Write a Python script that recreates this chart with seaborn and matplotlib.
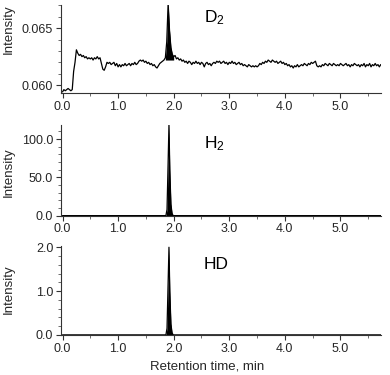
import numpy as np
import pandas as pd
import matplotlib
matplotlib.use("Agg")
import matplotlib.pyplot as plt
from matplotlib.ticker import MultipleLocator, FormatStrFormatter
import seaborn as sns

# ---------------- data ----------------
# D2 trace, sampled every 0.025 min from 0.0 to 5.75 min
d2_step = 0.025
d2_values = [
    0.0594, 0.0596, 0.0595, 0.0596, 0.0597, 0.0596, 0.0595, 0.0596, 0.0612, 0.0620,
    0.0631, 0.0628, 0.0626, 0.0627, 0.0625, 0.0626, 0.0624, 0.0625, 0.0623, 0.0624,
    0.0623, 0.0624, 0.0622, 0.0624, 0.0623, 0.0625, 0.0623, 0.0624, 0.0619, 0.0614,
    0.0613, 0.0616, 0.0620, 0.0619, 0.0620, 0.0618, 0.0619, 0.0620, 0.0617, 0.0619,
    0.0616, 0.0618, 0.0616, 0.0618, 0.0617, 0.0619, 0.0617, 0.0618, 0.0619, 0.0617,
    0.0619, 0.0618, 0.0620, 0.0618, 0.0619, 0.0621, 0.0622, 0.0621, 0.0622, 0.0620,
    0.0621, 0.0619, 0.0620, 0.0618, 0.0619, 0.0617, 0.0618, 0.0616, 0.0615, 0.0617,
    0.0619, 0.0620, 0.0621, 0.0622, 0.0624, 0.0638, 0.0672, 0.0648, 0.0633, 0.0627,
    0.0625, 0.0626, 0.0623, 0.0624, 0.0622, 0.0623, 0.0621, 0.0622, 0.0620, 0.0621,
    0.0619, 0.0621, 0.0620, 0.0618, 0.0620, 0.0619, 0.0621, 0.0619, 0.0620, 0.0618,
    0.0620, 0.0619, 0.0616, 0.0619, 0.0620, 0.0618, 0.0619, 0.0617, 0.0619, 0.0620,
    0.0619, 0.0621, 0.0620, 0.0621, 0.0619, 0.0620, 0.0621, 0.0619, 0.0620, 0.0618,
    0.0620, 0.0619, 0.0621, 0.0619, 0.0620, 0.0618, 0.0619, 0.0620, 0.0618, 0.0619,
    0.0617, 0.0618, 0.0617, 0.0616, 0.0618, 0.0617, 0.0616, 0.0617, 0.0616, 0.0617,
    0.0616, 0.0617, 0.0619, 0.0618, 0.0620, 0.0619, 0.0621, 0.0620, 0.0622, 0.0621,
    0.0620, 0.0622, 0.0621, 0.0620, 0.0621, 0.0619, 0.0620, 0.0621, 0.0619, 0.0620,
    0.0618, 0.0619, 0.0617, 0.0618, 0.0616, 0.0617, 0.0615, 0.0617, 0.0616, 0.0618,
    0.0616, 0.0617, 0.0618, 0.0617, 0.0619, 0.0618, 0.0617, 0.0619, 0.0618, 0.0620,
    0.0619, 0.0620, 0.0621, 0.0617, 0.0616, 0.0617, 0.0616, 0.0618, 0.0617, 0.0619,
    0.0618, 0.0617, 0.0619, 0.0618, 0.0617, 0.0619, 0.0618, 0.0617, 0.0618, 0.0617,
    0.0619, 0.0618, 0.0617, 0.0618, 0.0619, 0.0617, 0.0618, 0.0616, 0.0618, 0.0617,
    0.0619, 0.0618, 0.0617, 0.0618, 0.0616, 0.0618, 0.0617, 0.0619, 0.0616, 0.0618,
    0.0617, 0.0619, 0.0616, 0.0618, 0.0617, 0.0619, 0.0617, 0.0618, 0.0616, 0.0618,
    0.0617,
]
d2_time = np.round(np.arange(len(d2_values)) * d2_step, 3)

# H2 trace (baseline zero, single sharp peak)
h2_time = [0.0, 1.86, 1.88, 1.90, 1.915, 1.93, 1.95, 1.97, 1.99, 5.75]
h2_values = [0.0, 0.0, 8.0, 70.0, 119.0, 60.0, 15.0, 3.0, 0.0, 0.0]

# HD trace
hd_time = [0.0, 1.86, 1.88, 1.90, 1.915, 1.93, 1.95, 1.97, 1.99, 5.75]
hd_values = [0.0, 0.0, 0.15, 1.2, 2.0, 1.0, 0.25, 0.05, 0.0, 0.0]

x_ticks = [0.0, 1.0, 2.0, 3.0, 4.0, 5.0]
labels = ["D$_2$", "H$_2$", "HD"]

# ---------------- style ----------------
sns.set_style("ticks")
plt.rcParams["font.family"] = ["Liberation Sans", "DejaVu Sans"]
plt.rcParams["mathtext.default"] = "regular"

fig = plt.figure(figsize=(3.9, 3.75), dpi=100)
left, right = 0.156, 0.977
ax1 = fig.add_axes([left, 0.751, right - left, 0.987 - 0.751])
ax2 = fig.add_axes([left, 0.425, right - left, 0.667 - 0.425])
ax3 = fig.add_axes([left, 0.107, right - left, 0.343 - 0.107])

df_d2 = pd.DataFrame({"t": d2_time, "v": d2_values})
df_h2 = pd.DataFrame({"t": h2_time, "v": h2_values})
df_hd = pd.DataFrame({"t": hd_time, "v": hd_values})

lw = 0.9
sns.lineplot(data=df_d2, x="t", y="v", ax=ax1, color="black", lw=lw)
pk = df_d2[(df_d2.t >= 1.85) & (df_d2.t <= 2.0)]
ax1.fill_between(pk.t, 0.0622, pk.v, color="black", lw=0)

sns.lineplot(data=df_h2, x="t", y="v", ax=ax2, color="black", lw=lw)
ax2.fill_between(df_h2.t, 0, df_h2.v, color="black", lw=0)

sns.lineplot(data=df_hd, x="t", y="v", ax=ax3, color="black", lw=lw)
ax3.fill_between(df_hd.t, 0, df_hd.v, color="black", lw=0)

ax1.set_ylim(0.05927, 0.06705)
ax2.set_ylim(0, 118.5)
ax3.set_ylim(0, 2.02)

ax1.yaxis.set_major_locator(MultipleLocator(0.005))
ax1.yaxis.set_minor_locator(MultipleLocator(0.001))
ax1.yaxis.set_major_formatter(FormatStrFormatter("%.3f"))
ax2.yaxis.set_major_locator(MultipleLocator(50))
ax2.yaxis.set_minor_locator(MultipleLocator(10))
ax2.yaxis.set_major_formatter(FormatStrFormatter("%.1f"))
ax3.yaxis.set_major_locator(MultipleLocator(1.0))
ax3.yaxis.set_minor_locator(MultipleLocator(0.2))
ax3.yaxis.set_major_formatter(FormatStrFormatter("%.1f"))

text_y = [0.804, 0.739, 0.749]
for ax, lab, ty in zip([ax1, ax2, ax3], labels, text_y):
    ax.set_xlim(-0.03, 5.73)
    ax.set_xticks(x_ticks)
    ax.xaxis.set_major_formatter(FormatStrFormatter("%.1f"))
    ax.xaxis.set_minor_locator(MultipleLocator(0.5))
    sns.despine(ax=ax)
    for sp in ["left", "bottom"]:
        ax.spines[sp].set_linewidth(0.8)
        ax.spines[sp].set_color("#333333")
    ax.tick_params(axis="both", which="major", length=3.5, width=0.8,
                   labelsize=9, pad=2, color="#333333")
    ax.tick_params(axis="both", which="minor", length=2, width=0.6, color="#555555")
    ax.set_xlabel("")
    ax.set_ylabel("Intensity", fontsize=9.5, labelpad=4)
    ax.text(0.447, ty, lab, transform=ax.transAxes, fontsize=12.5,
            ha="left", va="baseline", color="black")

ax1.yaxis.set_label_coords(-0.145, 0.72)
ax2.yaxis.set_label_coords(-0.145, 0.48)
ax3.yaxis.set_label_coords(-0.145, 0.52)

ax3.set_xlabel("Retention time, min", fontsize=9.5)
ax3.xaxis.set_label_coords(0.456, -0.295)

fig.savefig("out.png", dpi=100)
